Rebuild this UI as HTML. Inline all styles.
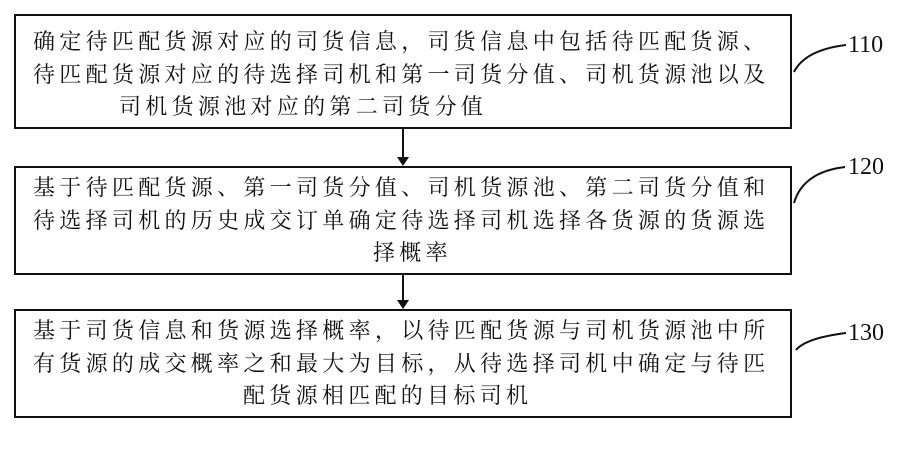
<!DOCTYPE html>
<html><head><meta charset="utf-8"><style>
body{margin:0;width:908px;height:449px;background:#fff;position:relative;overflow:hidden;font-family:"Liberation Serif","Noto Serif CJK SC",serif;}
.b{position:absolute;left:14px;width:778px;border:2px solid #111;box-sizing:border-box;}
.t{position:absolute;left:33px;font-size:22px;line-height:32.5px;letter-spacing:4.3px;color:#111;white-space:nowrap;}
.l{position:absolute;font-size:24px;color:#111;left:848px;}
</style></head><body>
<div class="b" style="top:14px;height:115px"></div>
<div class="b" style="top:166px;height:109px"></div>
<div class="b" style="top:309px;height:109px"></div>
<div class="t" style="top:26px">确定待匹配货源对应的司货信息，司货信息中包括待匹配货源、<br>待匹配货源对应的待选择司机和第一司货分值、司机货源池以及<br><span style="padding-left:86px">司机货源池对应的第二司货分值</span></div>
<div class="t" style="top:172px">基于待匹配货源、第一司货分值、司机货源池、第二司货分值和<br>待选择司机的历史成交订单确定待选择司机选择各货源的货源选<br><span style="padding-left:340px">择概率</span></div>
<div class="t" style="top:315px">基于司货信息和货源选择概率，以待匹配货源与司机货源池中所<br>有货源的成交概率之和最大为目标，从待选择司机中确定与待匹<br><span style="padding-left:210px">配货源相匹配的目标司机</span></div>
<svg width="908" height="449" style="position:absolute;left:0;top:0">
<g stroke="#111" stroke-width="2" fill="none">
<line x1="403" y1="129" x2="403" y2="158"/>
<line x1="403" y1="275" x2="403" y2="301"/>
<path d="M794 72 Q805 50 846 45"/>
<path d="M794 203 Q803 172 845 167"/>
<path d="M796 350 Q806 338 846 333"/>
</g>
<polygon points="397,157 409,157 403,166" fill="#111"/>
<polygon points="397,300 409,300 403,309" fill="#111"/>
</svg>
<div class="l" style="top:32px">110</div>
<div class="l" style="top:154px">120</div>
<div class="l" style="top:320px">130</div>
</body></html>
